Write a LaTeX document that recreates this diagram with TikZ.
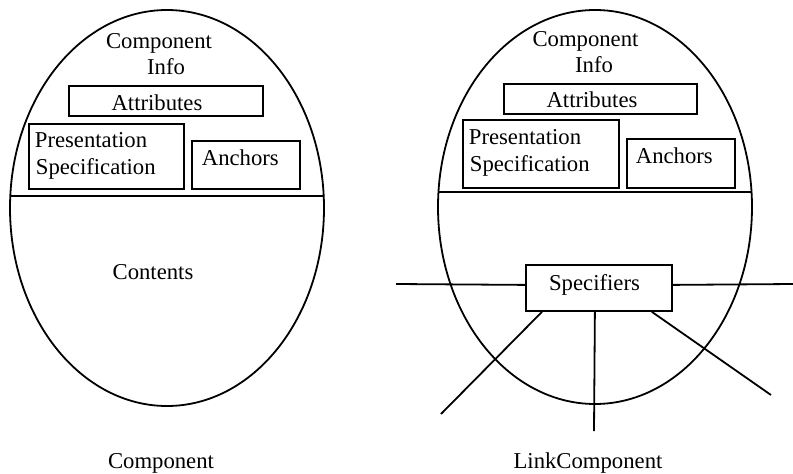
\documentclass[tikz,border=0pt]{standalone}
\usepackage{fontspec}
\setmainfont{Liberation Serif}
\usetikzlibrary{shapes.geometric}
\begin{document}
\begin{tikzpicture}[x=1pt, y=-1pt, line width=1.8pt,
  lbl/.style={inner sep=0pt, anchor=base, font=\fontsize{22.7}{26}\selectfont},
  lblw/.style={lbl, anchor=base west},
  part/.style={draw, rectangle, inner sep=0pt, anchor=north west},
  shell/.style={draw, ellipse, inner sep=0pt, minimum width=314pt}]
\useasboundingbox (0,0) rectangle (793,474);

% ---------- Component ----------
\node[shell, minimum height=396pt] (compL) at (167,208) {};
\coordinate (dlA) at (10.3,196);
\coordinate (dlB) at (323.7,196);
\draw (dlA) -- (dlB);

\node[lbl] (ciL1) at (159,48) {Component};
\node[lbl] (ciL2) at (166,74) {Info};

\node[part, minimum width=194pt, minimum height=30pt] (attrL) at (68,85) {};
\node[lbl] (attrLt) at (157,110) {Attributes};

\node[part, minimum width=155pt, minimum height=65pt] (presL) at (28,123) {};
\node[lblw] (presLt1) at (34,147) {Presentation};
\node[lblw] (presLt2) at (35,174) {Specification};

\node[part, minimum width=108pt, minimum height=48pt] (anchL) at (191,140) {};
\node[lblw] (anchLt) at (201,165) {Anchors};

\node[lbl] (contL) at (153,279) {Contents};
\node[lbl] (nameL) at (161,468) {Component};

% ---------- LinkComponent ----------
\node[shell, minimum height=394pt] (compR) at (595,207) {};
\coordinate (drA) at (438.5,192);
\coordinate (drB) at (751.5,192);
\draw (drA) -- (drB);

\node[lbl] (ciR1) at (585.5,46) {Component};
\node[lbl] (ciR2) at (594,72) {Info};

\node[part, minimum width=193pt, minimum height=30pt] (attrR) at (503,83) {};
\node[lbl] (attrRt) at (592,107) {Attributes};

\node[part, minimum width=156pt, minimum height=68pt] (presR) at (462,119) {};
\node[lblw] (presRt1) at (468,144) {Presentation};
\node[lblw] (presRt2) at (469,171) {Specification};

\node[part, minimum width=108pt, minimum height=49pt] (anchR) at (626,138) {};
\node[lblw] (anchRt) at (635,163) {Anchors};

\node[part, minimum width=146pt, minimum height=46pt] (spec) at (525,264) {};
\node[lbl] (specT) at (594.5,290) {Specifiers};

\coordinate (endW) at (396,284);
\coordinate (endE) at (793,284);
\coordinate (endSW) at (441,414);
\coordinate (endS) at (594,431);
\coordinate (endSE) at (771,395);

\draw ([yshift=3pt]spec.west) -- (endW);
\draw ([yshift=3pt]spec.east) -- (endE);
\draw ([xshift=17pt]spec.south west) -- (endSW);
\draw ([xshift=-4pt]spec.south) -- (endS);
\draw ([xshift=-21pt]spec.south east) -- (endSE);

\node[lbl] (nameR) at (588,468) {LinkComponent};
\end{tikzpicture}
\end{document}
